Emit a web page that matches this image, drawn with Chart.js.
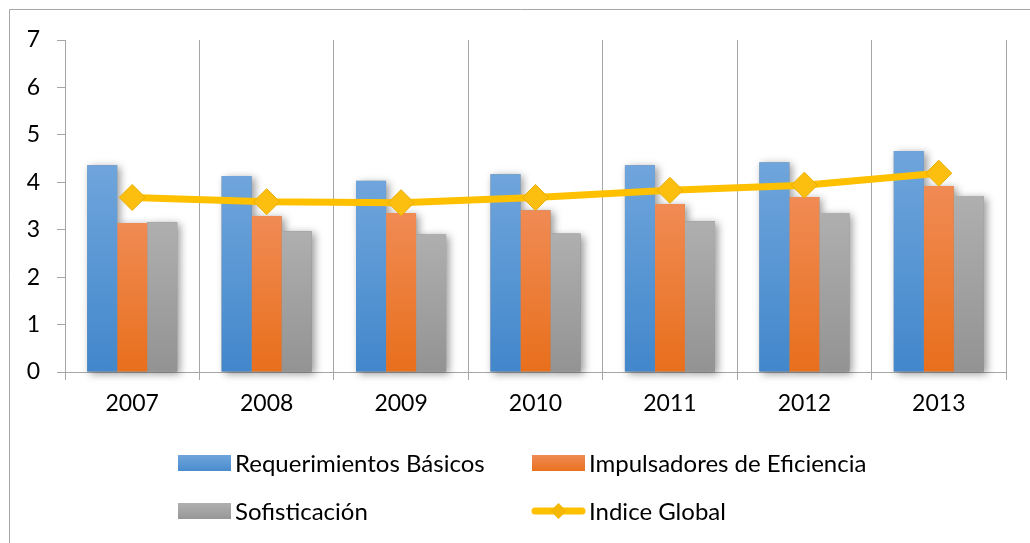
<!DOCTYPE html>
<html>
<head>
<meta charset="utf-8">
<script src="https://cdn.jsdelivr.net/npm/chart.js@4"></script>
<style>
  html, body { margin: 0; padding: 0; background: #fff; overflow: hidden; }
  #wrap { width: 1030px; height: 543px; position: relative; }
</style>
</head>
<body>
<div id="wrap"><canvas id="chart"></canvas></div>
<script>
// Data
const years = ['2007', '2008', '2009', '2010', '2011', '2012', '2013'];
const requerimientos = [4.36, 4.13, 4.03, 4.17, 4.36, 4.42, 4.66];
const impulsadores = [3.14, 3.29, 3.35, 3.41, 3.54, 3.69, 3.92];
const sofisticacion = [3.16, 2.97, 2.90, 2.92, 3.18, 3.35, 3.71];
const indiceGlobal = [3.68, 3.59, 3.57, 3.68, 3.83, 3.94, 4.19];

const FONT = 'Lato, "Open Sans", sans-serif';

// vertical gradient for each bar, from its own top to the axis
function barGradient(top, bottom, solid) {
  return function (c) {
    const chart = c.chart;
    const y = chart.scales && chart.scales.y;
    if (!y || c.parsed == null || !chart.chartArea) return solid;
    const y0 = y.getPixelForValue(c.parsed.y);
    const y1 = y.getPixelForValue(0);
    const g = chart.ctx.createLinearGradient(0, y0, 0, y1);
    g.addColorStop(0, top);
    g.addColorStop(1, bottom);
    return g;
  };
}

// soft shadow behind bars + outer frame + two column legend
const extras = {
  id: 'extras',
  beforeDraw(chart) {
    const ctx = chart.ctx;
    ctx.save();
    ctx.strokeStyle = '#a6a6a6';
    ctx.lineWidth = 1;
    ctx.beginPath();
    ctx.moveTo(9.5, 600);
    ctx.lineTo(9.5, 9.5);
    ctx.lineTo(1100, 9.5);
    ctx.stroke();
    ctx.restore();
  },
  beforeDatasetsDraw(chart) {
    // shadows first, so every bar is painted over them
    const ctx = chart.ctx;
    ctx.save();
    ctx.shadowColor = 'rgba(0,0,0,0.4)';
    ctx.shadowBlur = 8;
    ctx.shadowOffsetX = 3;
    ctx.shadowOffsetY = 2;
    ctx.fillStyle = '#888';
    chart.data.datasets.forEach((ds, i) => {
      if (ds.type === 'line') return;
      chart.getDatasetMeta(i).data.forEach(bar => {
        const p = bar.getProps(['x', 'y', 'base', 'width'], true);
        ctx.fillRect(p.x - p.width / 2, p.y, p.width, p.base - p.y);
      });
    });
    ctx.restore();
  },
  afterDraw(chart) {
    const ctx = chart.ctx;
    const cols = [178, 532];
    const rows = [463, 511];
    const boxW = 53, boxH = 16;
    ctx.save();
    ctx.font = '24px ' + FONT;
    ctx.textBaseline = 'middle';
    chart.data.datasets.forEach((ds, i) => {
      const x = cols[i % 2];
      const y = rows[Math.floor(i / 2)];
      if (ds.type === 'line') {
        ctx.strokeStyle = ds.borderColor;
        ctx.lineWidth = 7;
        ctx.lineCap = 'round';
        ctx.beginPath();
        ctx.moveTo(x + 3, y);
        ctx.lineTo(x + boxW - 3, y);
        ctx.stroke();
        ctx.fillStyle = '#f5b800';
        ctx.beginPath();
        ctx.moveTo(x + boxW / 2, y - 8);
        ctx.lineTo(x + boxW / 2 + 8, y);
        ctx.lineTo(x + boxW / 2, y + 8);
        ctx.lineTo(x + boxW / 2 - 8, y);
        ctx.closePath();
        ctx.fill();
      } else {
        const g = ctx.createLinearGradient(0, y - boxH / 2, 0, y + boxH / 2);
        g.addColorStop(0, ds.legendTop);
        g.addColorStop(1, ds.legendBottom);
        ctx.fillStyle = g;
        ctx.fillRect(x, y - boxH / 2, boxW, boxH);
      }
      ctx.fillStyle = '#000';
      ctx.fillText(ds.label, x + boxW + 4, y + 1);
    });
    ctx.restore();
  }
};

const ctx = document.getElementById('chart').getContext('2d');

new Chart(ctx, {
  type: 'bar',
  data: {
    labels: years,
    datasets: [
      {
        label: 'Requerimientos Básicos',
        data: requerimientos,
        backgroundColor: barGradient('#6fa5dc', '#4287cb', '#5597d6'),
        legendTop: '#6fa5dc', legendBottom: '#4a8ccd',
        order: 1
      },
      {
        label: 'Impulsadores de Eficiencia',
        data: impulsadores,
        backgroundColor: barGradient('#f08b54', '#e86f1c', '#ee7d3a'),
        legendTop: '#f08b54', legendBottom: '#e9711f',
        order: 1
      },
      {
        label: 'Sofisticación',
        data: sofisticacion,
        backgroundColor: barGradient('#afafaf', '#939393', '#a3a3a3'),
        legendTop: '#b0b0b0', legendBottom: '#979797',
        order: 1
      },
      {
        type: 'line',
        label: 'Indice Global',
        data: indiceGlobal,
        borderColor: '#ffc000',
        borderWidth: 7,
        pointStyle: 'rectRot',
        pointRadius: 13,
        pointHoverRadius: 13,
        pointBackgroundColor: '#fcbf10',
        pointBorderColor: '#e8ad00',
        pointBorderWidth: 1,
        tension: 0,
        order: 0
      }
    ]
  },
  options: {
    responsive: true,
    maintainAspectRatio: false,
    animation: false,
    layout: { padding: { top: 40, right: 24, bottom: 111, left: 0 } },
    datasets: {
      bar: { categoryPercentage: 0.67, barPercentage: 1.0 }
    },
    plugins: {
      legend: { display: false },
      tooltip: { enabled: false }
    },
    scales: {
      x: {
        grid: {
          color: '#a6a6a6',
          offset: true,
          drawTicks: true,
          tickLength: 8
        },
        border: { color: '#a6a6a6' },
        ticks: {
          color: '#000',
          font: { family: FONT, size: 23 },
          padding: 10
        },
        afterFit(scale) { scale.height = 60; }
      },
      y: {
        min: 0,
        max: 7,
        grid: {
          drawOnChartArea: false,
          drawTicks: true,
          tickLength: 8,
          color: '#a6a6a6'
        },
        border: { color: '#a6a6a6' },
        ticks: {
          stepSize: 1,
          color: '#000',
          font: { family: FONT, size: 23 },
          padding: 17
        },
        afterFit(scale) { scale.width = 65; }
      }
    }
  },
  plugins: [extras]
});
</script>
</body>
</html>
